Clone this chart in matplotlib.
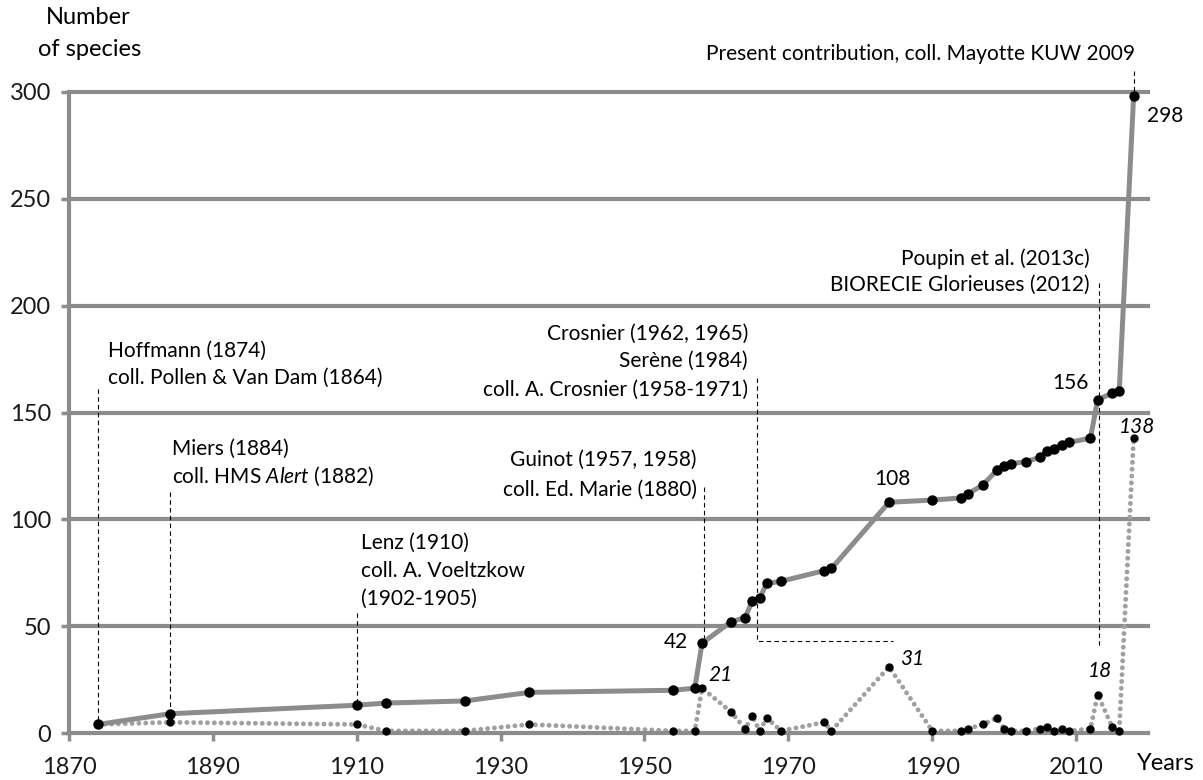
import matplotlib
matplotlib.use('Agg')
import matplotlib.pyplot as plt

# 字体
plt.rcParams['font.family'] = ['Lato', 'DejaVu Sans']
plt.rcParams['mathtext.fontset'] = 'custom'
plt.rcParams['mathtext.it'] = 'Lato:italic'
plt.rcParams['mathtext.rm'] = 'Lato'

# 数据: publication years, new species per publication, cumulative number
years = [1874, 1884, 1910, 1914, 1925, 1934, 1954, 1957, 1958, 1962, 1964, 1965,
         1966, 1967, 1969, 1975, 1976, 1984, 1990, 1994, 1995, 1997, 1999, 2000,
         2001, 2003, 2005, 2006, 2007, 2008, 2009, 2012, 2013, 2015, 2016, 2018]
new_species = [4, 5, 4, 1, 1, 4, 1, 1, 21, 10, 2, 8,
               1, 7, 1, 5, 1, 31, 1, 1, 2, 4, 7, 2,
               1, 1, 2, 3, 1, 2, 1, 2, 18, 3, 1, 138]
cumulative = [4, 9, 13, 14, 15, 19, 20, 21, 42, 52, 54, 62,
              63, 70, 71, 76, 77, 108, 109, 110, 112, 116, 123, 125,
              126, 127, 129, 132, 133, 135, 136, 138, 156, 159, 160, 298]
x_ticks = [1870, 1890, 1910, 1930, 1950, 1970, 1990, 2010]
y_ticks = [0, 50, 100, 150, 200, 250, 300]

gray = '#8c8c8c'
dotgray = '#a0a0a0'
fs = 15

fig = plt.figure(figsize=(12.03, 7.80), dpi=100)
ax = fig.add_axes([69 / 1203, 47 / 780, 1079 / 1203, 641 / 780])
ax.set_xlim(1870, 2020)
ax.set_ylim(0, 300)

# 网格线
for v in y_ticks[1:]:
    ax.axhline(v, color=gray, lw=3, zorder=1, clip_on=False)
for s in ['top', 'right']:
    ax.spines[s].set_visible(False)
for s in ['left', 'bottom']:
    ax.spines[s].set_color(gray)
    ax.spines[s].set_linewidth(3)

ax.set_xticks(x_ticks)
ax.set_yticks(y_ticks)
ax.tick_params(axis='x', colors=gray, length=6, width=2.5, pad=11, labelsize=17, labelcolor='#1a1a1a')
ax.tick_params(axis='y', colors=gray, length=6, width=2.5, pad=7, labelsize=17, labelcolor='#1a1a1a')

# 折线
ax.plot(years, new_species, color=dotgray, lw=3.5, ls=(0, (0.01, 1.4)),
        dash_capstyle='round', zorder=2, clip_on=False)
ax.plot(years, new_species, 'o', color='black', ms=5, zorder=4, clip_on=False)
ax.plot(years, cumulative, color=gray, lw=3.6, zorder=3, clip_on=False)
ax.plot(years, cumulative, 'o', color='black', ms=6.5, zorder=5, clip_on=False)

# 虚线标注
dash = dict(color='black', lw=0.8, ls=(0, (4, 3)), zorder=2.5, clip_on=False)
ax.plot([1874, 1874], [161, 5], **dash)
ax.plot([1884, 1884], [113, 10], **dash)
ax.plot([1910, 1910], [56, 14], **dash)
ax.plot([1958.3, 1958.3], [115, 43], **dash)
ax.plot([1965.65, 1965.65, 1984.5], [166, 43, 43], **dash)
ax.plot([2013.2, 2013.2], [210.6, 40], **dash)
ax.plot([2018, 2018], [310, 299], **dash)

# 文字
ax.text(1875.4, 179, 'Hoffmann (1874)', fontsize=fs, va='center')
ax.text(1875.4, 166, 'coll. Pollen & Van Dam (1864)', fontsize=fs, va='center')
ax.text(1884.3, 133, 'Miers (1884)', fontsize=fs, va='center')
ax.text(1884.3, 120, r'coll. HMS $\mathit{Alert}$ (1882)', fontsize=fs, va='center')
ax.text(1910.6, 89, 'Lenz (1910)', fontsize=fs, va='center')
ax.text(1910.6, 76, 'coll. A. Voeltzkow', fontsize=fs, va='center')
ax.text(1910.6, 63, '(1902-1905)', fontsize=fs, va='center')
ax.text(1957.3, 128, 'Guinot (1957, 1958)', fontsize=fs, va='center', ha='right')
ax.text(1957.3, 114, 'coll. Ed. Marie (1880)', fontsize=fs, va='center', ha='right')
ax.text(1964.4, 187, 'Crosnier (1962, 1965)', fontsize=fs, va='center', ha='right')
ax.text(1964.4, 174, 'Serène (1984)', fontsize=fs, va='center', ha='right')
ax.text(1964.4, 160.5, 'coll. A. Crosnier (1958-1971)', fontsize=fs, va='center', ha='right')
ax.text(2011.9, 222, 'Poupin et al. (2013c)', fontsize=fs, va='center', ha='right')
ax.text(2011.9, 209.6, 'BIORECIE Glorieuses (2012)', fontsize=fs, va='center', ha='right')
ax.text(2018.2, 318, 'Present contribution, coll. Mayotte KUW 2009', fontsize=fs, va='center', ha='right')

# 数值标签
ax.text(1956.1, 42.7, '42', fontsize=fs, va='center', ha='right')
ax.text(1984.5, 119, '108', fontsize=fs, va='center', ha='center')
ax.text(2011.8, 164, '156', fontsize=fs, va='center', ha='right')
ax.text(2019.9, 289, '298', fontsize=fs, va='center', ha='left')
ax.text(1958.85, 27, '21', fontsize=fs, va='center', style='italic')
ax.text(1985.5, 34.8, '31', fontsize=fs, va='center', style='italic')
ax.text(2013.35, 29, '18', fontsize=fs, va='center', ha='center', style='italic')
ax.text(2018.5, 143, '138', fontsize=fs, va='center', ha='center', style='italic')

# 轴标题
fig.text(88 / 1203, 1 - 17 / 780, 'Number', fontsize=17, ha='center', va='center')
fig.text(90 / 1203, 1 - 50 / 780, 'of species', fontsize=17, ha='center', va='center')
fig.text(1137 / 1203, 1 - 763 / 780, 'Years', fontsize=17, ha='left', va='center')

fig.savefig('out.png', dpi=100)
